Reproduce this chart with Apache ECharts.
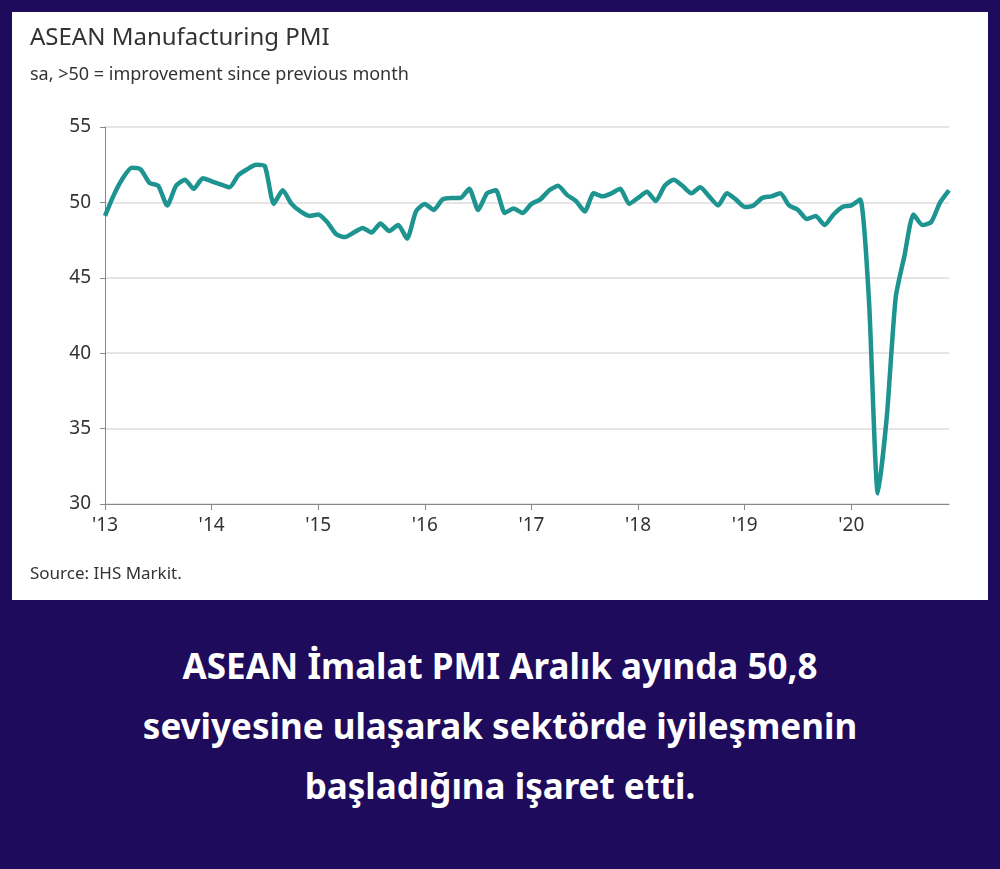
<!DOCTYPE html><html><head><meta charset="utf-8">
<script src="https://cdn.jsdelivr.net/npm/echarts@6/dist/echarts.min.js"></script>
<style>body{margin:0;background:#1f0b5c;width:1000px;height:869px;overflow:hidden;font-family:"Noto Sans",sans-serif}
#panel{position:absolute;left:12px;top:12px;width:976px;height:588px;background:#fff}
#c{position:absolute;left:0;top:0;width:1000px;height:610px}
#cap{position:absolute;left:0;top:636px;width:1000px;text-align:center;color:#fff;font-weight:700;font-size:35px;line-height:60px;font-family:"Noto Sans",sans-serif}
</style></head><body>
<div id="panel"></div><div id="c"></div>
<div id="cap">ASEAN İmalat PMI Aralık ayında 50,8<br>seviyesine ulaşarak sektörde iyileşmenin<br>başladığına işaret etti.</div>
<script>
const years=["'13","'14","'15","'16","'17","'18","'19","'20"];
const pmi=[49.1,50.5,51.6,52.3,52.2,51.3,51.1,49.8,51.1,51.5,50.9,51.6,
51.4,51.2,51.0,51.8,52.2,52.5,52.4,49.9,50.8,49.9,49.4,49.1,
49.2,48.7,47.9,47.7,48.0,48.3,48.0,48.6,48.1,48.5,47.6,49.4,
49.9,49.5,50.2,50.3,50.3,50.9,49.5,50.6,50.8,49.3,49.6,49.3,
49.9,50.2,50.8,51.1,50.5,50.1,49.4,50.6,50.4,50.6,50.9,49.9,
50.3,50.7,50.1,51.1,51.5,51.1,50.6,51.0,50.4,49.8,50.6,50.2,
49.7,49.8,50.3,50.4,50.6,49.8,49.5,48.9,49.1,48.5,49.2,49.7,
49.8,50.2,43.4,30.7,35.8,43.7,46.5,49.2,48.5,48.7,50.0,50.8];
const months=pmi.map((v,i)=>years[Math.floor(i/12)]+'-'+(i%12+1));
const F='Noto Sans';
const ch=echarts.init(document.getElementById('c'));
ch.setOption({
 title:[{text:'ASEAN Manufacturing PMI',left:30,top:26,padding:0,textStyle:{fontSize:24,fontWeight:'normal',color:'#333',fontFamily:F}},
  {text:'sa, >50 = improvement since previous month',left:30,top:66,padding:0,textStyle:{fontSize:18,fontWeight:'normal',color:'#333',fontFamily:F}},
  {text:'Source: IHS Markit.',left:30,top:566,padding:0,textStyle:{fontSize:17,fontWeight:'normal',color:'#333',fontFamily:F}}],
 grid:{left:105,right:51,top:127,bottom:106},
 xAxis:{type:'category',data:months,boundaryGap:false,
  axisLine:{lineStyle:{color:'#888'}},
  axisTick:{interval:(i)=>i%12===0,length:6,lineStyle:{color:'#888'}},
  axisLabel:{interval:(i)=>i%12===0,formatter:v=>v.split('-')[0],fontSize:19,color:'#333',margin:12,fontFamily:F}},
 yAxis:{type:'value',min:30,max:55,interval:5,
  axisLine:{show:true,lineStyle:{color:'#888'}},axisTick:{show:true,length:5,lineStyle:{color:'#888'}},
  axisLabel:{fontSize:19,color:'#333',margin:14,fontFamily:F},
  splitLine:{lineStyle:{color:'#ddd',width:1.5}}},
 series:[{type:'line',data:pmi,symbol:'none',smooth:0.2,lineStyle:{color:'#1d9490',width:4.5}}]
});
</script></body></html>
